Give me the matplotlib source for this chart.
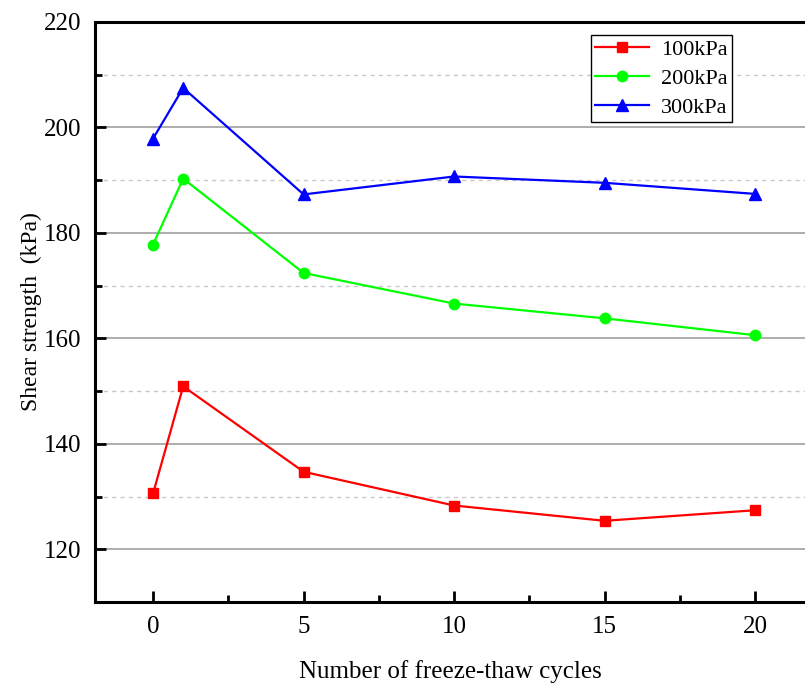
import matplotlib.pyplot as plt
from matplotlib.ticker import MultipleLocator

plt.rcParams['font.family'] = ['Liberation Serif', 'DejaVu Serif']

cycles = [0, 1, 5, 10, 15, 20]
s100 = [130.6, 150.9, 134.7, 128.3, 125.4, 127.4]
s200 = [177.8, 190.3, 172.4, 166.6, 163.8, 160.6]
s300 = [197.9, 207.5, 187.3, 190.7, 189.5, 187.4]

fig = plt.figure(figsize=(8.05, 6.84), dpi=100)
ax = fig.add_axes([95 / 805, 82 / 684, 710 / 805, 580 / 684])

ax.plot(cycles, s100, color='#ff0000', marker='s', ms=7.5, lw=1.6, label='100kPa')
ax.plot(cycles, s200, color='#00ff00', marker='o', ms=7.5, lw=1.6, label='200kPa')
ax.plot(cycles, s300, color='#0000ff', marker='^', ms=8.5, lw=1.6, label='300kPa')

ax.set_xlim(-1.93, 21.66)
ax.set_ylim(110, 220)
ax.xaxis.set_major_locator(MultipleLocator(5))
ax.xaxis.set_minor_locator(MultipleLocator(2.5))
ax.yaxis.set_major_locator(MultipleLocator(20))
ax.yaxis.set_minor_locator(MultipleLocator(10))

ax.grid(True, which='major', axis='y', color='#a0a0a0', lw=1.2, ls='-')
ax.grid(True, which='minor', axis='y', color='#c8c8c8', lw=1.0, ls=(0, (3, 3)))
ax.set_axisbelow(True)

for side in ['left', 'bottom', 'top']:
    ax.spines[side].set_linewidth(2.2)
ax.spines['right'].set_visible(False)

ax.tick_params(which='major', direction='in', length=8, width=2, labelsize=18, pad=10)
ax.tick_params(which='minor', direction='in', length=5, width=2)
ax.tick_params(top=False, right=False)

ax.set_xlabel('Number of freeze-thaw cycles', fontsize=18, labelpad=16)
ax.set_ylabel('Shear strength  (kPa)', fontsize=17, labelpad=1)

leg = ax.legend(loc='upper right', bbox_to_anchor=(0.897, 0.978), fontsize=16,
                fancybox=False, edgecolor='black', framealpha=1,
                handlelength=2.4, handletextpad=0.55, borderpad=0.2,
                labelspacing=0.38, borderaxespad=0)
leg.get_frame().set_linewidth(1.0)

fig.savefig('out.png', dpi=100)
